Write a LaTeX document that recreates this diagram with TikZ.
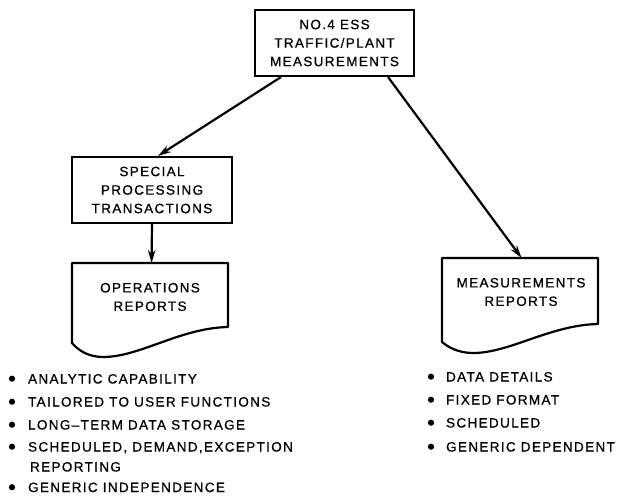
\documentclass[tikz,border=0pt]{standalone}
\usepackage{fontspec}
\setmainfont{Liberation Sans}[LetterSpace=10,FakeBold=0.8]
\usetikzlibrary{arrows.meta}
\newcommand\lab{\fontsize{13.5}{18.5}\selectfont}
\begin{document}
\begin{tikzpicture}[x=1pt,y=-1pt,line width=2.2pt,
  box/.style={draw,rectangle,inner sep=0pt,align=center,font=\lab},
  lbl/.style={inner sep=0pt,align=center,font=\lab},
  item/.style={inner sep=0pt,anchor=base west,font=\lab},
  doc/.style={draw,line join=round},
  arr/.style={-{Stealth[length=13pt,width=7.5pt]},line width=2.2pt},
  dot/.style={radius=3.1pt}]
\useasboundingbox (0,0) rectangle (617,495);
% boxes
\node[box,minimum width=159pt,minimum height=66pt] (top) at (334.5,43) {NO.4 ESS\\TRAFFIC/PLANT\\MEASUREMENTS};
\node[box,minimum width=160pt,minimum height=66pt] (spt) at (152,190) {SPECIAL\\PROCESSING\\TRANSACTIONS};
% documents
\draw[doc] (72,263) -- coordinate[pos=0.51] (opsTop) (228,263) -- (228,327)
  .. controls (180,328) and (140,357) .. (103,357)
  .. controls (88,357) and (78,350) .. (72,343) -- cycle;
\node[lbl] (ops) at (150,297) {OPERATIONS\\REPORTS};
\draw[doc] (442,258) -- coordinate[pos=0.51] (measTop) (598,258) -- (598,324)
  .. controls (550,325) and (510,353) .. (473,353)
  .. controls (458,353) and (448,347) .. (442,342) -- cycle;
\node[lbl] (meas) at (521,292) {MEASUREMENTS\\REPORTS};
% connectors
\draw[arr] ([xshift=27pt]top.south west) -- ([xshift=6pt]spt.north);
\draw[arr] ([xshift=-27pt]top.south east) -- (measTop);
\draw[arr] (spt.south) -- (opsTop);
% left list
\node[item] (l1) at (27,383.5) {ANALYTIC CAPABILITY};
\node[item] (l2) at (27,406.5) {TAILORED TO USER FUNCTIONS};
\node[item] (l3) at (27,429.5) {LONG--TERM DATA STORAGE};
\node[item] (l4) at (27,451.5) {SCHEDULED, DEMAND,EXCEPTION};
\node[item] (l4b) at (29,471.5) {REPORTING};
\node[item] (l5) at (27,492) {GENERIC INDEPENDENCE};
% right list
\node[item] (r1) at (445,381.5) {DATA DETAILS};
\node[item] (r2) at (445,404.5) {FIXED FORMAT};
\node[item] (r3) at (445,427.5) {SCHEDULED};
\node[item] (r4) at (445,451.5) {GENERIC DEPENDENT};
% bullets
\foreach \n in {l1,l2,l3,l4,l5}
  \fill[dot] ([xshift=-15pt,yshift=4.8pt]\n.base west) circle;
\foreach \n in {r1,r2,r3,r4}
  \fill[dot] ([xshift=-14pt,yshift=4.8pt]\n.base west) circle;
\end{tikzpicture}
\end{document}
